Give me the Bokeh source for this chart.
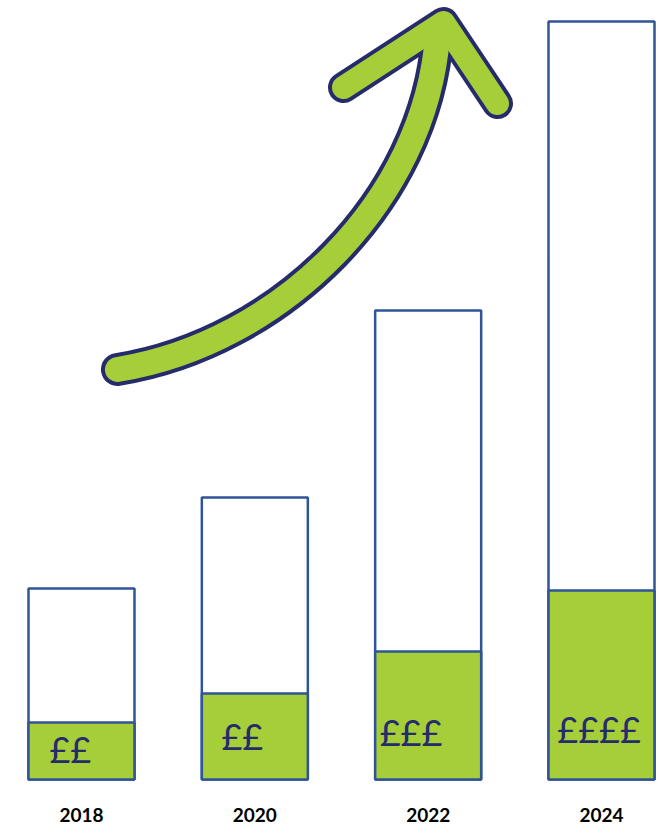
from bokeh.plotting import figure
from bokeh.models import Range1d, FixedTicker, ColumnDataSource
from bokeh.core.properties import value
from bokeh.embed import file_html
from bokeh.resources import INLINE

# ---- data ----
years = [2018, 2020, 2022, 2024]
total_height = [191, 282, 469, 758]
green_height = [57, 86, 128, 189]
pound_labels = ["££", "££", "£££", "££££"]

# ---- styles ----
BAR_W = 1.223
BLUE = "#2F5597"
GREEN = "#A6CE39"
NAVY = "#252B6B"
label_dx = [-0.37, -0.385, -0.56, -0.51]
label_y = [31, 44, 48, 51]

# arrow decoration (data coordinates)
tail = (2018.415, 410)
c1 = (2020.296, 436)
c2 = (2021.969, 579)
head = (2022.108, 744)
tip = (2022.177, 757)
arm_l = (2021.023, 692)
arm_r = (2022.800, 676)

p = figure(width=662, height=825, output_backend="svg", toolbar_location=None,
           x_range=Range1d(2017.0654, 2024.7038), y_range=Range1d(-2, 779),
           min_border_left=0, min_border_right=0, min_border_top=0,
           min_border_bottom=44)
p.outline_line_color = None
p.grid.visible = False
p.yaxis.visible = False
p.xaxis.ticker = FixedTicker(ticks=years)
p.xaxis.axis_line_color = None
p.xaxis.major_tick_line_color = None
p.xaxis.minor_tick_line_color = None
p.xaxis.major_label_standoff = 20
p.xaxis.major_label_text_font = "Lato"
p.xaxis.major_label_text_font_style = "bold"
p.xaxis.major_label_text_font_size = "19px"
p.xaxis.major_label_text_color = "#000000"
p.background_fill_color = "white"
p.border_fill_color = "white"

src = ColumnDataSource(dict(x=years, top=total_height, g=green_height,
                            lx=[y + d for y, d in zip(years, label_dx)],
                            ly=label_y, txt=pound_labels))

p.vbar(x="x", top="top", bottom=0, width=BAR_W, source=src,
       fill_color="white", line_color=BLUE, line_width=2.5)
p.vbar(x="x", top="g", bottom=0, width=BAR_W, source=src,
       fill_color=GREEN, line_color=BLUE, line_width=2.5)
p.text(x="lx", y="ly", text="txt", source=src, text_font=value("Lato"),
       text_font_size="36px", text_color=NAVY, text_baseline="alphabetic",
       text_align="left")

# arrow: outline pass then fill pass
for color, lw in [(NAVY, 33), (GREEN, 25)]:
    p.bezier(x0=[tail[0]], y0=[tail[1]], x1=[head[0]], y1=[head[1]],
             cx0=[c1[0]], cy0=[c1[1]], cx1=[c2[0]], cy1=[c2[1]],
             line_color=color, line_width=lw, line_cap="round")
    p.line(x=[arm_l[0], tip[0], arm_r[0]], y=[arm_l[1], tip[1], arm_r[1]],
           line_color=color, line_width=lw - 2, line_cap="round",
           line_join="round")

open("out.html", "w").write(file_html(p, INLINE))
